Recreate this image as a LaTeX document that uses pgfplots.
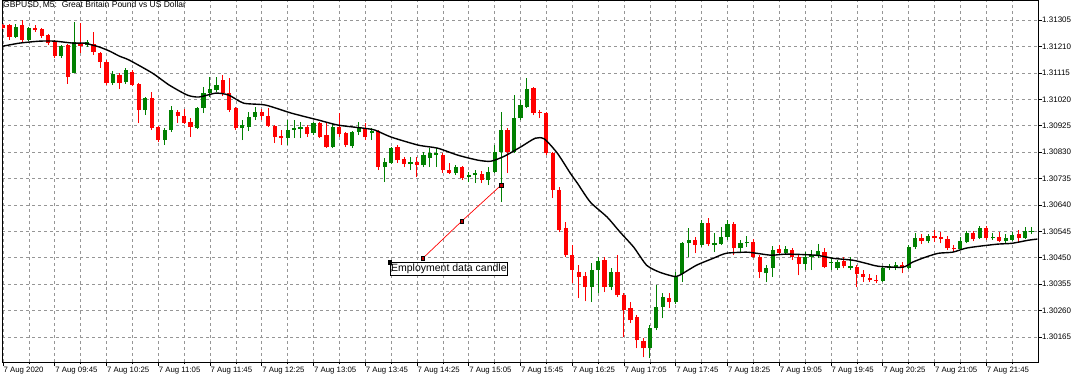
\documentclass[border=0pt]{standalone}
\usepackage{pgfplots}
\usepackage{pgfplotstable}
\pgfplotsset{compat=1.18}
\usepackage{fontspec}
\setmainfont{Liberation Sans}
\definecolor{mtred}{RGB}{255,0,0}
\definecolor{mtgreen}{RGB}{0,128,0}
\definecolor{mtgrid}{RGB}{150,150,150}

\pgfplotstableread{
i O H L C
0 1.31287 1.31291 1.31273 1.31276
1 1.31287 1.31291 1.31233 1.31244
3 1.31287 1.31305 1.31226 1.31233
5 1.31276 1.31287 1.31262 1.31269
6 1.31273 1.31276 1.31240 1.31247
7 1.31251 1.31255 1.31215 1.31222
8 1.31226 1.31233 1.31168 1.31175
10 1.31215 1.31219 1.31075 1.31100
12 1.31222 1.31294 1.31186 1.31211
14 1.31219 1.31262 1.31179 1.31190
15 1.31186 1.31190 1.31132 1.31154
16 1.31154 1.31161 1.31071 1.31078
18 1.31107 1.31114 1.31057 1.31078
20 1.31118 1.31125 1.31067 1.31071
21 1.31075 1.31078 1.30934 1.30981
23 1.31024 1.31046 1.30909 1.30916
24 1.30920 1.30923 1.30866 1.30873
27 1.30974 1.30981 1.30934 1.30959
28 1.30959 1.30985 1.30931 1.30934
29 1.30938 1.30952 1.30884 1.30920
34 1.31089 1.31107 1.31031 1.31042
35 1.31042 1.31096 1.30974 1.30981
36 1.30988 1.30992 1.30909 1.30916
40 1.30974 1.30985 1.30945 1.30959
41 1.30959 1.30988 1.30920 1.30923
42 1.30923 1.30927 1.30862 1.30884
43 1.30887 1.30909 1.30855 1.30880
47 1.30920 1.30927 1.30884 1.30895
49 1.30934 1.30938 1.30880 1.30884
50 1.30891 1.30938 1.30844 1.30848
52 1.30920 1.30970 1.30884 1.30895
53 1.30898 1.30902 1.30848 1.30855
56 1.30916 1.30934 1.30873 1.30884
58 1.30905 1.30909 1.30765 1.30776
61 1.30848 1.30855 1.30790 1.30801
62 1.30805 1.30812 1.30776 1.30787
64 1.30794 1.30812 1.30740 1.30783
68 1.30819 1.30826 1.30754 1.30765
69 1.30765 1.30790 1.30751 1.30754
71 1.30776 1.30779 1.30729 1.30736
74 1.30751 1.30761 1.30718 1.30729
78 1.30909 1.30916 1.30754 1.30830
82 1.31060 1.31064 1.30963 1.30970
83 1.30974 1.30981 1.30952 1.30970
84 1.30970 1.30974 1.30819 1.30826
85 1.30826 1.30830 1.30664 1.30693
86 1.30693 1.30704 1.30542 1.30549
87 1.30556 1.30578 1.30452 1.30459
88 1.30459 1.30495 1.30358 1.30405
89 1.30398 1.30423 1.30304 1.30380
90 1.30383 1.30398 1.30293 1.30344
93 1.30441 1.30452 1.30326 1.30344
95 1.30398 1.30459 1.30308 1.30315
96 1.30315 1.30322 1.30164 1.30261
97 1.30268 1.30290 1.30214 1.30225
98 1.30236 1.30243 1.30124 1.30153
99 1.30149 1.30161 1.30092 1.30124
103 1.30304 1.30322 1.30268 1.30290
107 1.30513 1.30524 1.30466 1.30495
109 1.30574 1.30592 1.30491 1.30499
113 1.30571 1.30578 1.30459 1.30484
116 1.30506 1.30517 1.30448 1.30452
117 1.30452 1.30459 1.30376 1.30398
120 1.30481 1.30495 1.30463 1.30466
122 1.30477 1.30484 1.30441 1.30452
123 1.30452 1.30459 1.30387 1.30427
127 1.30470 1.30484 1.30412 1.30416
130 1.30437 1.30452 1.30412 1.30419
132 1.30416 1.30423 1.30344 1.30391
133 1.30391 1.30405 1.30362 1.30380
134 1.30376 1.30391 1.30362 1.30369
135 1.30369 1.30387 1.30358 1.30365
139 1.30423 1.30434 1.30394 1.30412
142 1.30520 1.30535 1.30499 1.30509
144 1.30527 1.30549 1.30506 1.30520
145 1.30524 1.30542 1.30502 1.30517
146 1.30517 1.30527 1.30477 1.30484
147 1.30484 1.30495 1.30470 1.30481
150 1.30538 1.30545 1.30509 1.30517
152 1.30556 1.30563 1.30513 1.30520
154 1.30524 1.30542 1.30506 1.30509
157 1.30535 1.30549 1.30506 1.30520
}\redtab

\pgfplotstableread{
i O H L C
2 1.31244 1.31291 1.31240 1.31280
4 1.31233 1.31280 1.31229 1.31276
9 1.31175 1.31215 1.31168 1.31211
11 1.31114 1.31298 1.31114 1.31226
13 1.31215 1.31233 1.31208 1.31226
17 1.31078 1.31121 1.31071 1.31111
19 1.31082 1.31132 1.31075 1.31125
22 1.30981 1.31028 1.30963 1.31024
25 1.30873 1.30916 1.30855 1.30909
26 1.30909 1.30995 1.30902 1.30981
30 1.30916 1.30992 1.30913 1.30988
31 1.30988 1.31064 1.30970 1.31042
32 1.31042 1.31100 1.31028 1.31057
33 1.31053 1.31100 1.31046 1.31071
37 1.30916 1.30945 1.30873 1.30927
38 1.30920 1.30974 1.30905 1.30956
39 1.30956 1.30992 1.30945 1.30974
44 1.30880 1.30945 1.30855 1.30909
45 1.30909 1.30945 1.30880 1.30916
46 1.30913 1.30938 1.30880 1.30920
48 1.30898 1.30938 1.30891 1.30934
51 1.30848 1.30931 1.30844 1.30920
54 1.30851 1.30905 1.30844 1.30902
55 1.30902 1.30938 1.30891 1.30920
57 1.30898 1.30916 1.30873 1.30905
59 1.30776 1.30808 1.30722 1.30794
60 1.30790 1.30848 1.30787 1.30844
63 1.30787 1.30812 1.30765 1.30794
65 1.30783 1.30830 1.30776 1.30819
66 1.30808 1.30844 1.30776 1.30826
67 1.30819 1.30844 1.30776 1.30826
70 1.30754 1.30783 1.30747 1.30776
72 1.30740 1.30758 1.30722 1.30747
73 1.30747 1.30765 1.30718 1.30754
75 1.30729 1.30776 1.30711 1.30758
76 1.30758 1.30855 1.30754 1.30830
77 1.30830 1.30974 1.30650 1.30909
79 1.30830 1.31035 1.30826 1.30952
80 1.30952 1.31017 1.30945 1.30999
81 1.30992 1.31096 1.30988 1.31057
91 1.30344 1.30430 1.30290 1.30405
92 1.30405 1.30452 1.30322 1.30437
94 1.30344 1.30412 1.30333 1.30398
100 1.30124 1.30207 1.30088 1.30196
101 1.30196 1.30351 1.30189 1.30272
102 1.30272 1.30322 1.30232 1.30308
104 1.30290 1.30398 1.30283 1.30380
105 1.30391 1.30506 1.30362 1.30502
106 1.30502 1.30556 1.30452 1.30513
108 1.30495 1.30585 1.30488 1.30574
110 1.30495 1.30538 1.30470 1.30502
111 1.30499 1.30560 1.30495 1.30524
112 1.30524 1.30585 1.30513 1.30571
114 1.30484 1.30513 1.30470 1.30502
115 1.30502 1.30527 1.30488 1.30506
118 1.30394 1.30423 1.30362 1.30412
119 1.30412 1.30491 1.30380 1.30477
121 1.30466 1.30491 1.30463 1.30481
124 1.30427 1.30470 1.30405 1.30452
125 1.30452 1.30477 1.30405 1.30459
126 1.30459 1.30499 1.30448 1.30473
128 1.30430 1.30452 1.30405 1.30434
129 1.30412 1.30441 1.30405 1.30434
131 1.30412 1.30452 1.30405 1.30419
136 1.30365 1.30419 1.30362 1.30412
137 1.30412 1.30427 1.30405 1.30419
138 1.30416 1.30434 1.30405 1.30423
140 1.30412 1.30495 1.30409 1.30488
141 1.30488 1.30538 1.30481 1.30520
143 1.30509 1.30535 1.30502 1.30527
148 1.30481 1.30524 1.30477 1.30509
149 1.30506 1.30545 1.30502 1.30538
151 1.30520 1.30563 1.30517 1.30556
153 1.30520 1.30538 1.30513 1.30524
155 1.30509 1.30535 1.30502 1.30520
156 1.30513 1.30542 1.30509 1.30531
158 1.30520 1.30560 1.30517 1.30545
159 1.30542 1.30560 1.30535 1.30545
}\greentab

\begin{document}
\begin{tikzpicture}[x=1pt,y=1pt]
\useasboundingbox (0,0) rectangle (1080,380);
\begin{axis}[
  at={(2pt,18pt)}, anchor=south west,
  scale only axis, width=1036pt, height=362pt,
  xmin=-0.15, xmax=160, ymin=1.30075, ymax=1.31377,
  axis line style={black, line width=0.8pt},
  tick align=outside,
  xtick pos=left, ytick pos=right, yticklabel pos=right,
  xtick={0,8,...,152},
  minor xtick={4,12,...,156},
  xticklabels={7 Aug 2020,7 Aug 09:45,7 Aug 10:25,7 Aug 11:05,7 Aug 11:45,7 Aug 12:25,7 Aug 13:05,7 Aug 13:45,7 Aug 14:25,7 Aug 15:05,7 Aug 15:45,7 Aug 16:25,7 Aug 17:05,7 Aug 17:45,7 Aug 18:25,7 Aug 19:05,7 Aug 19:45,7 Aug 20:25,7 Aug 21:05,7 Aug 21:45},
  ytick={1.30165,1.30260,1.30355,1.30450,1.30545,1.30640,1.30735,1.30830,1.30925,1.31020,1.31115,1.31210,1.31305},
  yticklabels={1.30165,1.30260,1.30355,1.30450,1.30545,1.30640,1.30735,1.30830,1.30925,1.31020,1.31115,1.31210,1.31305},
  xticklabel style={anchor=north west, inner sep=0pt, xshift=0.5pt, yshift=-1pt, font=\fontsize{7.8}{9}\selectfont},
  yticklabel style={anchor=west, inner sep=0pt, xshift=0pt, font=\fontsize{8}{9}\selectfont},
  major tick length=4pt, minor tick length=2.5pt,
  every tick/.style={black, line width=0.6pt},
  xmajorgrids, xminorgrids, ymajorgrids,
  major grid style={mtgrid, dash pattern=on 3pt off 3pt, line width=0.6pt},
  minor grid style={mtgrid, dash pattern=on 3pt off 3pt, line width=0.6pt},
]
% wicks
\addplot[draw=none, mark=none, forget plot,
  error bars/.cd, y dir=plus, y explicit, error mark=none,
  error bar style={draw=mtred, line width=1pt}]
  table[x=i, y=L, y error expr=\thisrow{H}-\thisrow{L}] {\redtab};
\addplot[draw=none, mark=none, forget plot,
  error bars/.cd, y dir=plus, y explicit, error mark=none,
  error bar style={draw=mtgreen, line width=1pt}]
  table[x=i, y=L, y error expr=\thisrow{H}-\thisrow{L}] {\greentab};
% bodies
\addplot[draw=none, mark=none, forget plot,
  error bars/.cd, y dir=plus, y explicit, error mark=none,
  error bar style={draw=mtred, line width=4.2pt}]
  table[x=i, y=C, y error expr=\thisrow{O}-\thisrow{C}] {\redtab};
\addplot[draw=none, mark=none, forget plot,
  error bars/.cd, y dir=plus, y explicit, error mark=none,
  error bar style={draw=mtgreen, line width=4.2pt}]
  table[x=i, y=O, y error expr=\thisrow{C}-\thisrow{O}] {\greentab};
% moving average
\addplot[black, line width=1.4pt, smooth, tension=0.4, mark=none] coordinates {
(-0.5,1.31209) (0,1.31211) (2.6,1.31222) (5.7,1.31229) (8,1.31229) (10.8,1.31222) (12.6,1.31222) (13.8,1.31215) (14.9,1.31208) (16.5,1.31193) (18,1.31175) (19.5,1.31161) (23.1,1.31114) (25.7,1.31071) (28.5,1.31035) (30.3,1.31028) (32.9,1.31042) (34.9,1.31035) (37.2,1.31006) (40.6,1.30999) (44.6,1.30970) (48.8,1.30945) (51.8,1.30927) (55.7,1.30916) (57.5,1.30909) (60,1.30884) (64.2,1.30855) (67.2,1.30844) (70.3,1.30819) (73.4,1.30801) (75.4,1.30797) (77.5,1.30815) (80,1.30848) (82.3,1.30880) (83.7,1.30877) (85.7,1.30826) (87.7,1.30754) (88.8,1.30718) (90.8,1.30650) (93.4,1.30596) (95.4,1.30542) (97.5,1.30488) (99.5,1.30423) (101.5,1.30398) (103.7,1.30383) (104.6,1.30387) (107.2,1.30423) (109.8,1.30448) (111.8,1.30466) (114.9,1.30470) (116.5,1.30466) (118.8,1.30459) (121.1,1.30463) (125.7,1.30459) (128.3,1.30448) (131.4,1.30441) (133.4,1.30430) (135.4,1.30419) (139.1,1.30416) (140.6,1.30434) (142.6,1.30452) (144.6,1.30466) (146.8,1.30470) (148.8,1.30484) (150.8,1.30491) (153.8,1.30499) (156,1.30502) (158.5,1.30513) (159.9,1.30517)
};
% annotation line
\addplot[red, line width=0.7pt, mark=square*, mark size=1.7pt,
  mark options={solid, fill=red!75!black, draw=black, line width=0.4pt}]
  coordinates {(64.9,1.30448) (70.9,1.30581) (77,1.30711)};
\addplot[only marks, mark=square*, mark size=1.7pt, black] coordinates {(59.8,1.30434)};
\node[draw=black, line width=0.6pt, anchor=north west, inner xsep=1pt, inner ysep=1.5pt,
  font=\fontsize{10.5}{12}\selectfont] at (axis cs:59.8,1.30434) {Employment data candle};
\end{axis}
\node[anchor=west, inner sep=0pt, font=\fontsize{8.5}{10}\selectfont] at (3,375) {GBPUSD,\,M5:\ \ Great Britain Pound vs US Dollar};
\end{tikzpicture}
\end{document}
